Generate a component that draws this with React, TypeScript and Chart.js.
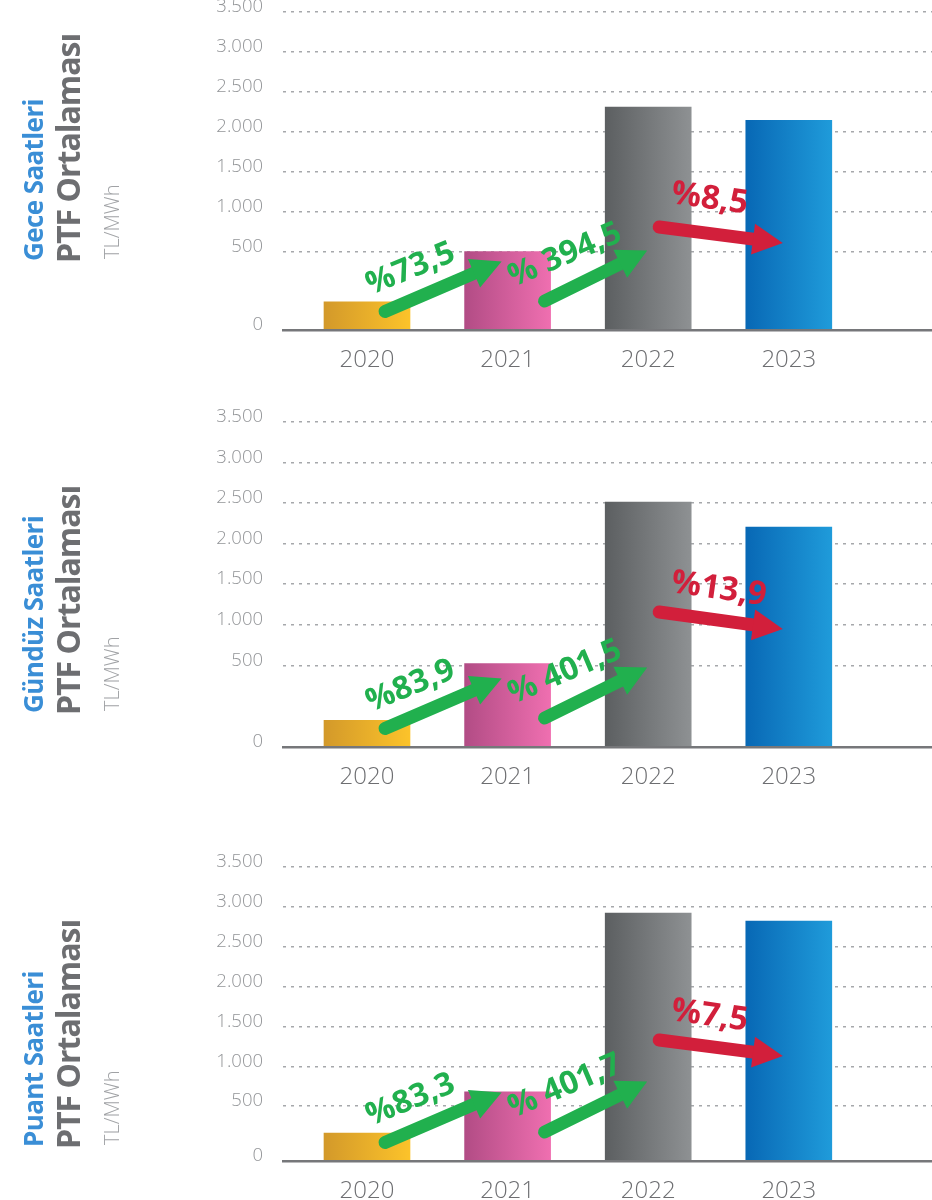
import React, { useEffect, useRef } from 'react';
import { Chart, registerables } from 'chart.js';

Chart.register(...registerables);

// ---------------- data ----------------
const YEARS = [2020, 2021, 2022, 2023];
const GECE_PTF = [179, 500, 2306, 2142];
const GUNDUZ_PTF = [163, 521, 2510, 2202];
const PUANT_PTF = [256, 679, 2920, 2820];
const Y_TICKS = [0, 500, 1000, 1500, 2000, 2500, 3000, 3500];
const GECE_CHANGES = ['%73,5', '% 394,5', '%8,5'];
const GUNDUZ_CHANGES = ['%83,9', '% 401,5', '%13,9'];
const PUANT_CHANGES = ['%83,3', '% 401,7', '%7,5'];
const PANEL_TITLES = ['Gece Saatleri', 'Gündüz Saatleri', 'Puant Saatleri'];
const MEASURE_TITLE = 'PTF Ortalaması';
const UNIT_LABEL = 'TL/MWh';

// ---------------- styling / layout ----------------
const FONT = "'Open Sans', 'Noto Sans', sans-serif";
const BAR_GRADIENTS: [string, string][] = [
  ['#d3992a', '#fcc32a'],
  ['#b24c85', '#ef6fb0'],
  ['#5c5f61', '#8e9193'],
  ['#0868b5', '#1f9bda'],
];
const BAR_W = 86;
const GREEN = '#21b04e';
const RED = '#d21f3b';

// the 0–500 band of the original axis is stretched; zeroAt = axis value where 0 sits
const PANELS = [
  { title: PANEL_TITLES[0], values: GECE_PTF, changes: GECE_CHANGES, top: 0, height: 390, padTop: 11.7, zeroAt: -480, red: [103, 87, 127], textBase: 260 },
  { title: PANEL_TITLES[1], values: GUNDUZ_PTF, changes: GUNDUZ_CHANGES, top: 395, height: 412, padTop: 26.7, zeroAt: -505, red: [135, 118, 155], textBase: 712 },
  { title: PANEL_TITLES[2], values: PUANT_PTF, changes: PUANT_CHANGES, top: 840, height: 381, padTop: 26.7, zeroAt: -186, red: [121, 105, 141], textBase: 1146 },
];

// annotation geometry: [bar index, px offset from bar centre, px above baseline]
const GREEN_ARROWS = [
  { from: [0, 18, 18.5], to: [1, -6, 68.5] },
  { from: [1, 37, 29], to: [2, -1, 79.5] },
];
const GREEN_TEXTS = [
  { at: [0, 4, 35], angle: -22 },
  { at: [1, 6, 43], angle: -23 },
];

const fmt = (v: number) => String(v).replace(/\B(?=(\d{3})+(?!\d))/g, '.');

function drawArrow(ctx: CanvasRenderingContext2D, x1: number, y1: number, x2: number, y2: number, color: string) {
  const ang = Math.atan2(y2 - y1, x2 - x1);
  const c = Math.cos(ang), s = Math.sin(ang);
  const headLen = 30, headW = 31;
  const bx = x2 - headLen * c, by = y2 - headLen * s;
  ctx.save();
  ctx.strokeStyle = color;
  ctx.fillStyle = color;
  ctx.lineWidth = 13;
  ctx.lineCap = 'round';
  ctx.beginPath();
  ctx.moveTo(x1, y1);
  ctx.lineTo(bx, by);
  ctx.stroke();
  ctx.beginPath();
  ctx.moveTo(x2, y2);
  ctx.lineTo(bx - s * headW / 2, by + c * headW / 2);
  ctx.lineTo(bx + s * headW / 2, by - c * headW / 2);
  ctx.closePath();
  ctx.fill();
  ctx.restore();
}

function drawText(ctx: CanvasRenderingContext2D, text: string, x: number, y: number, angle: number, color: string, size: number) {
  ctx.save();
  ctx.translate(x, y);
  ctx.rotate((angle * Math.PI) / 180);
  ctx.font = `700 ${size}px ${FONT}`;
  ctx.fillStyle = color;
  ctx.textAlign = 'left';
  ctx.textBaseline = 'alphabetic';
  ctx.fillText(text, 0, 0);
  ctx.restore();
}

function PanelChart({ panel }: { panel: typeof PANELS[number] }) {
  const ref = useRef<HTMLCanvasElement>(null);
  useEffect(() => {
    const zeroAt = panel.zeroAt;
    const toAxis = (v: number) => (v >= 500 ? v : zeroAt + (v / 500) * (500 - zeroAt));

    const notes = {
      id: 'changeNotes',
      afterDatasetsDraw(chart: any) {
        const { ctx, chartArea, scales } = chart;
        const base = chartArea.bottom;
        const pt = (p: number[]) => [scales.x.getPixelForValue(YEARS[p[0]]) + p[1], base - p[2]];
        GREEN_ARROWS.forEach((a) => {
          const [x1, y1] = pt(a.from);
          const [x2, y2] = pt(a.to);
          drawArrow(ctx, x1, y1, x2, y2, GREEN);
        });
        GREEN_TEXTS.forEach((t, i) => {
          const [x, y] = pt(t.at);
          drawText(ctx, panel.changes[i], x, y, t.angle, GREEN, 32);
        });
        const [rx1, ry1] = pt([2, 11, panel.red[0]]);
        const [rx2, ry2] = pt([3, -6, panel.red[1]]);
        drawArrow(ctx, rx1, ry1, rx2, ry2, RED);
        const [tx, ty] = pt([2, 22, panel.red[2]]);
        drawText(ctx, panel.changes[2], tx, ty, 8, RED, 33);
      },
    };

    const chart = new Chart(ref.current as HTMLCanvasElement, {
      type: 'bar',
      data: {
        datasets: [
          {
            data: YEARS.map((yr, i) => ({ x: yr, y: [zeroAt, toAxis(panel.values[i])] })) as any,
            barThickness: BAR_W,
            borderWidth: 0,
            backgroundColor: (c: any) => {
              const idx = c.dataIndex ?? 0;
              const [a, b] = BAR_GRADIENTS[idx] || BAR_GRADIENTS[0];
              if (c.type !== 'data') return b;
              const chartRef = c.chart;
              const xs = chartRef.scales && chartRef.scales.x;
              if (!xs || !chartRef.chartArea) return b;
              const cx = xs.getPixelForValue(YEARS[idx]);
              const g = chartRef.ctx.createLinearGradient(cx - BAR_W / 2, 0, cx + BAR_W / 2, 0);
              g.addColorStop(0, a);
              g.addColorStop(1, b);
              return g;
            },
          },
        ],
      },
      options: {
        responsive: true,
        maintainAspectRatio: false,
        animation: false,
        events: [],
        layout: { padding: { top: panel.padTop, left: 0, right: 0, bottom: 0 } },
        plugins: { legend: { display: false }, tooltip: { enabled: false } },
        scales: {
          x: {
            type: 'linear',
            min: 2019.4026,
            max: 2024.0185,
            offset: false,
            grid: { display: false, drawTicks: false },
            border: { display: true, color: '#76777a', width: 2.5, z: 1 },
            afterBuildTicks: (s: any) => {
              s.ticks = YEARS.map((v) => ({ value: v }));
            },
            afterFit: (s: any) => {
              s.height = 60;
              s.paddingLeft = 0;
              s.paddingRight = 0;
            },
            ticks: {
              autoSkip: false,
              maxRotation: 0,
              minRotation: 0,
              padding: 16,
              color: '#6d6e71',
              font: { family: FONT, size: 24, weight: '300' as any },
              callback: (v: any) => String(v),
            },
          },
          y: {
            type: 'linear',
            min: zeroAt,
            max: 3500,
            afterBuildTicks: (s: any) => {
              s.ticks = Y_TICKS.map((v) => ({ value: toAxis(v) }));
            },
            afterFit: (s: any) => {
              s.width = 283;
              s.paddingTop = 0;
              s.paddingBottom = 0;
            },
            grid: {
              drawTicks: false,
              lineWidth: 1.5,
              color: (c: any) => (c.index === 0 ? 'rgba(0,0,0,0)' : '#a6a8ab'),
            },
            border: { display: false, dash: [3, 5] },
            ticks: {
              padding: 20,
              labelOffset: -5,
              color: '#939598',
              font: { family: FONT, size: 18.5, weight: '300' as any },
              callback: (_v: any, i: number) => fmt(Y_TICKS[i]),
            },
          },
        },
      } as any,
      plugins: [notes],
    });
    return () => chart.destroy();
  }, [panel]);

  return (
    <div style={{ position: 'absolute', left: 0, top: panel.top, width: 932, height: panel.height }}>
      <canvas ref={ref} />
    </div>
  );
}

function RotText({ text, left, top, size, weight, color, spacing }: any) {
  return (
    <div
      style={{
        position: 'absolute',
        left,
        top,
        transformOrigin: '0 0',
        transform: 'rotate(-90deg)',
        whiteSpace: 'nowrap',
        lineHeight: 1,
        fontFamily: FONT,
        fontSize: size,
        fontWeight: weight,
        color,
        letterSpacing: spacing,
      }}
    >
      {text}
    </div>
  );
}

export default function App() {
  return (
    <div
      style={{
        position: 'absolute',
        left: 0,
        top: 0,
        width: 932,
        height: 1200,
        overflow: 'hidden',
        background: '#ffffff',
      }}
    >
      {PANELS.map((p, k) => (
        <React.Fragment key={k}>
          <PanelChart panel={p} />
          <RotText text={p.title} left={19.6} top={p.textBase + 1.3} size={26} weight={700} color="#3a8ed6" spacing="-0.6px" />
          <RotText text={MEASURE_TITLE} left={51.6} top={p.textBase + 2.5} size={32} weight={700} color="#6d6e71" spacing="-1px" />
          <RotText text={UNIT_LABEL} left={101.5} top={p.textBase - 1} size={20} weight={300} color="#a0a2a5" spacing="0px" />
        </React.Fragment>
      ))}
    </div>
  );
}
